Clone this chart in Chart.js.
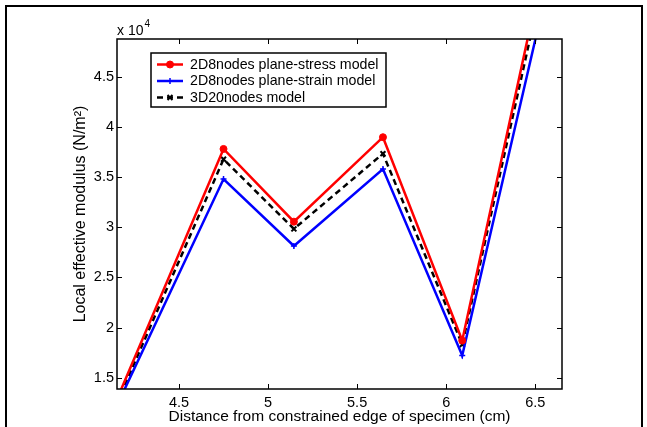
<!DOCTYPE html>
<html>
<head>
<meta charset="utf-8">
<script src="https://cdn.jsdelivr.net/npm/chart.js@4.4.1/dist/chart.umd.min.js"></script>
<style>
html,body{margin:0;padding:0;background:#fff;}
#wrap{width:647px;height:427px;position:relative;}
</style>
</head>
<body>
<div id="wrap"><canvas id="c" width="647" height="427"></canvas></div>
<script>
// Data (distance in cm, modulus in N/m^2)
const distance = [4.15, 4.75, 5.145, 5.645, 6.09, 6.65];
const planeStress = [12780, 37800, 30550, 38970, 18700, 64600];
const planeStrain = [12160, 34800, 28130, 35800, 17200, 60200];
const solid3D = [12420, 36770, 29830, 37330, 18300, 63200];
const seriesLabels = ['2D8nodes plane-stress model', '2D8nodes plane-strain model', '3D20nodes model'];
const xTicks = [4.5, 5, 5.5, 6, 6.5];
const yTicks = [15000, 20000, 25000, 30000, 35000, 40000, 45000];

const FONT = 'Liberation Sans, Arial, Helvetica, sans-serif';
const toPts = ys => distance.map((x, i) => ({x: x, y: ys[i]}));

const matlabPlugin = {
  id: 'matlab',
  afterDraw(chart) {
    const ctx = chart.ctx;
    const a = chart.chartArea;
    const xs = chart.scales.x, ys = chart.scales.y;
    ctx.save();
    // outer figure frame
    ctx.strokeStyle = '#000';
    ctx.lineWidth = 2;
    ctx.strokeRect(6, 6, 636, 440);
    // axes box
    ctx.lineWidth = 1.5;
    ctx.strokeRect(a.left, a.top, a.right - a.left, a.bottom - a.top);
    // inward ticks
    ctx.lineWidth = 1;
    const tl = 5;
    ctx.beginPath();
    xTicks.forEach(v => {
      const p = Math.round(xs.getPixelForValue(v)) + 0.5;
      ctx.moveTo(p, a.bottom); ctx.lineTo(p, a.bottom - tl);
      ctx.moveTo(p, a.top); ctx.lineTo(p, a.top + tl);
    });
    yTicks.forEach(v => {
      const p = Math.round(ys.getPixelForValue(v)) + 0.5;
      ctx.moveTo(a.left, p); ctx.lineTo(a.left + tl, p);
      ctx.moveTo(a.right, p); ctx.lineTo(a.right - tl, p);
    });
    ctx.stroke();
    // exponent label
    ctx.fillStyle = '#000';
    ctx.textBaseline = 'alphabetic';
    ctx.textAlign = 'left';
    ctx.font = '14px ' + FONT;
    ctx.fillText('x 10', a.left, 35);
    const w = ctx.measureText('x 10').width;
    ctx.font = '10px ' + FONT;
    ctx.fillText('4', a.left + w + 1, 27);
    // legend
    const lx = 151, ly = 53, lw = 235, lh = 54;
    ctx.fillStyle = '#fff';
    ctx.fillRect(lx, ly, lw, lh);
    ctx.lineWidth = 1.5;
    ctx.strokeStyle = '#000';
    ctx.strokeRect(lx, ly, lw, lh);
    const rows = [64.5, 81, 97.5];
    chart.data.datasets.forEach((ds, i) => {
      const y = rows[i];
      ctx.save();
      ctx.strokeStyle = ds.borderColor;
      ctx.lineWidth = ds.borderWidth;
      ctx.setLineDash(ds.borderDash || []);
      ctx.beginPath();
      ctx.moveTo(157, y); ctx.lineTo(183, y);
      ctx.stroke();
      ctx.restore();
      ctx.save();
      ctx.fillStyle = ds.borderColor; ctx.strokeStyle = ds.borderColor;
      ctx.lineWidth = ds.pointBorderWidth;
      Chart.helpers.drawPoint(ctx, {pointStyle: ds.pointStyle, radius: ds.pointRadius, rotation: ds.pointRotation || 0, borderWidth: ds.pointBorderWidth}, 170, y);
      ctx.restore();
      ctx.fillStyle = '#000';
      ctx.font = '14.2px ' + FONT;
      ctx.textBaseline = 'middle';
      ctx.fillText(ds.label, 190, y + 0.5);
    });
    ctx.restore();
  }
};

new Chart(document.getElementById('c'), {
  type: 'line',
  data: {
    datasets: [
      {label: seriesLabels[0], data: toPts(planeStress), borderColor: '#ff0000', backgroundColor: '#ff0000',
       borderWidth: 2.5, pointStyle: 'circle', pointRadius: 3.5, pointBorderWidth: 1, tension: 0},
      {label: seriesLabels[1], data: toPts(planeStrain), borderColor: '#0000ff', backgroundColor: '#0000ff',
       borderWidth: 2.5, pointStyle: 'cross', pointRadius: 3, pointBorderWidth: 1.5, tension: 0},
      {label: seriesLabels[2], data: toPts(solid3D), borderColor: '#000000', backgroundColor: '#000000',
       borderWidth: 2.5, borderDash: [6, 4], pointStyle: 'crossRot', pointRadius: 3.5, pointBorderWidth: 2, tension: 0}
    ]
  },
  options: {
    responsive: false,
    animation: false,
    devicePixelRatio: 1,
    layout: {padding: {top: 39, right: 85, left: 0, bottom: 0}},
    plugins: {legend: {display: false}, tooltip: {enabled: false}},
    scales: {
      x: {
        type: 'linear', min: 4.152, max: 6.65,
        afterBuildTicks: s => { s.ticks = xTicks.map(v => ({value: v})); },
        afterFit: s => { s.height = 38; },
        grid: {display: false, drawTicks: false},
        border: {display: false},
        ticks: {padding: 5, color: '#000', font: {family: FONT, size: 14.5}, maxRotation: 0,
                callback: v => String(v)},
        title: {display: true, text: 'Distance from constrained edge of specimen (cm)', color: '#000',
                font: {family: FONT, size: 15.5}, padding: {top: 0, bottom: 1}}
      },
      y: {
        type: 'linear', min: 13870, max: 48760,
        afterBuildTicks: s => { s.ticks = yTicks.map(v => ({value: v})); },
        afterFit: s => { s.width = 117; },
        grid: {display: false, drawTicks: false},
        border: {display: false},
        ticks: {padding: 3, color: '#000', font: {family: FONT, size: 14.5},
                callback: v => String(v / 10000)},
        title: {display: true, text: 'Local effective modulus (N/m²)', color: '#000',
                font: {family: FONT, size: 16}, padding: {top: 71, bottom: 0}}
      }
    }
  },
  plugins: [matlabPlugin]
});
</script>
</body>
</html>
